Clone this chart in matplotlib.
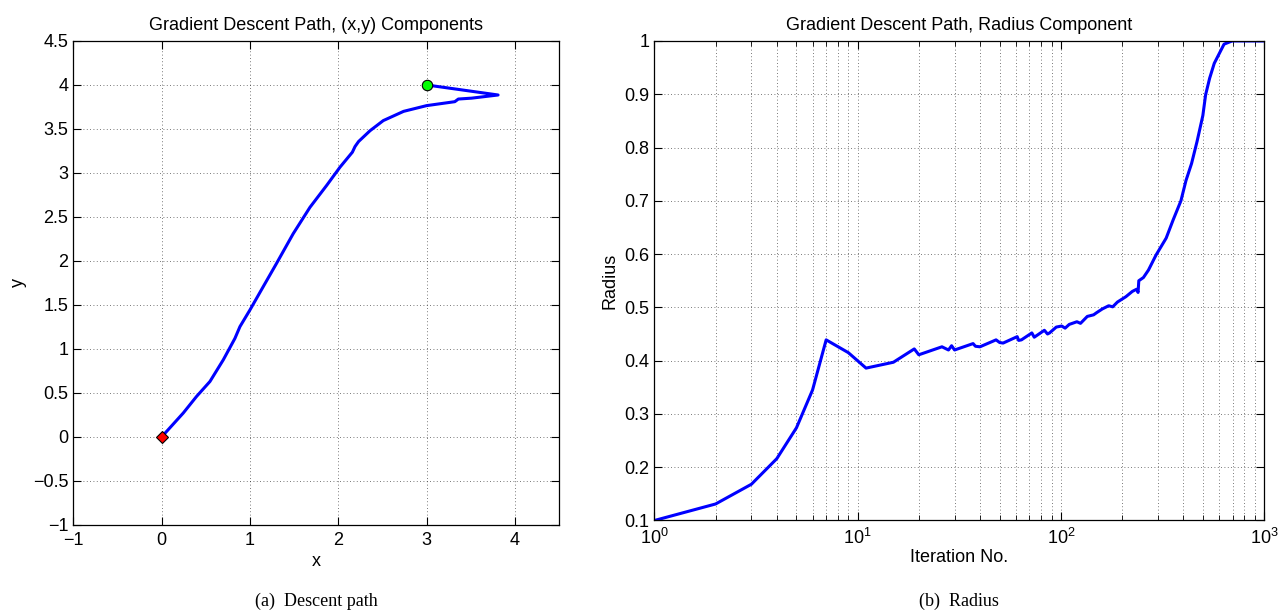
import numpy as np
import matplotlib.pyplot as plt

plt.rcParams["font.family"] = ["Liberation Sans", "DejaVu Sans"]

# descent path in (x, y), from start (green) to end (red)
path_x = [3.0, 3.81, 3.51, 3.36, 3.32, 3.0, 2.74, 2.51, 2.36, 2.23, 2.19, 2.16,
          2.02, 1.87, 1.68, 1.49, 1.30, 1.15, 1.0, 0.887, 0.83, 0.698, 0.547,
          0.396, 0.245, 0.0]
path_y = [4.0, 3.886, 3.85, 3.84, 3.81, 3.765, 3.70, 3.595, 3.48, 3.357, 3.30,
          3.236, 3.066, 2.86, 2.61, 2.31, 1.97, 1.707, 1.443, 1.254, 1.12, 0.876,
          0.63, 0.461, 0.272, 0.0]

# radius against iteration number
iters = [1, 2, 3, 4, 5, 6, 7, 9, 11, 15, 19, 20, 26, 28, 29, 30, 37, 38, 40,
         48, 50, 52, 61, 62, 64, 72, 74, 76, 83, 86, 88, 95, 101, 105, 110,
         120, 125, 135, 145, 150, 160, 172, 180, 190, 209, 225, 236, 240, 242,
         255, 270, 294, 330, 357, 390, 413, 440, 468, 500, 516, 540, 569, 636,
         697, 1000]
radius = [0.1, 0.131, 0.168, 0.216, 0.274, 0.345, 0.439, 0.415, 0.386, 0.397,
          0.422, 0.411, 0.426, 0.42, 0.428, 0.42, 0.432, 0.427, 0.426, 0.439,
          0.434, 0.433, 0.445, 0.438, 0.439, 0.452, 0.444, 0.447, 0.457, 0.45,
          0.452, 0.463, 0.465, 0.461, 0.468, 0.473, 0.47, 0.483, 0.486, 0.49,
          0.497, 0.503, 0.501, 0.51, 0.52, 0.53, 0.534, 0.528, 0.55, 0.556,
          0.57, 0.598, 0.63, 0.664, 0.70, 0.738, 0.77, 0.811, 0.86, 0.899, 0.93,
          0.958, 0.994, 1.0, 1.0]

fig = plt.figure(figsize=(12.86, 6.14), dpi=100)
ax1 = fig.add_axes([0.0570, 0.1450, 0.3777, 0.7883])
ax2 = fig.add_axes([0.5089, 0.1523, 0.4740, 0.7810])

grid_kw = dict(color="k", linestyle=(0, (1, 3)), linewidth=0.6, alpha=0.7)

# LEFT: descent path
ax1.plot(path_x, path_y, color="#0000ff", lw=2.2)
ax1.plot(path_x[0], path_y[0], "o", ms=7.5, mfc="#00ff00", mec="k", mew=0.8)
ax1.plot(path_x[-1], path_y[-1], "D", ms=6, mfc="#ff0000", mec="k", mew=0.8)
ax1.set_xlim(-1, 4.5)
ax1.set_ylim(-1, 4.5)
ax1.set_xticks(np.arange(-1, 5, 1))
ax1.set_yticks(np.arange(-1, 4.51, 0.5))
ax1.set_yticklabels(["\u22121", "\u22120.5", "0", "0.5", "1", "1.5", "2", "2.5",
                     "3", "3.5", "4", "4.5"])
ax1.set_xticklabels(["\u22121", "0", "1", "2", "3", "4"])
ax1.grid(True, **grid_kw)
ax1.set_title("Gradient Descent Path, (x,y) Components", fontsize=13, pad=8)
ax1.set_xlabel("x", fontsize=13, labelpad=3)
ax1.set_ylabel("y", fontsize=13, labelpad=4)

# RIGHT: radius
ax2.semilogx(iters, radius, color="#0000ff", lw=2.2)
ax2.set_xlim(1, 1000)
ax2.set_ylim(0.1, 1)
ax2.set_yticks(np.arange(0.1, 1.01, 0.1))
ax2.set_yticklabels(["0.1", "0.2", "0.3", "0.4", "0.5", "0.6", "0.7", "0.8",
                     "0.9", "1"])
ax2.grid(True, which="both", **grid_kw)
ax2.set_title("Gradient Descent Path, Radius Component", fontsize=13, pad=8)
ax2.set_xlabel("Iteration No.", fontsize=13, labelpad=1)
ax2.set_ylabel("Radius", fontsize=13, labelpad=4)

for ax in (ax1, ax2):
    ax.tick_params(which="both", direction="in", top=True, right=True,
                   labelsize=13)
    ax.tick_params(which="major", length=6)
    ax.tick_params(which="minor", length=3.5)
    ax.tick_params(axis="x", pad=5)
    for s in ax.spines.values():
        s.set_linewidth(0.9)

fig.text(0.2459, 0.013, "(a)  Descent path", ha="center",
         family="Liberation Serif", fontsize=13)
fig.text(0.7459, 0.013, "(b)  Radius", ha="center",
         family="Liberation Serif", fontsize=13)

fig.savefig("out.png", dpi=100)
